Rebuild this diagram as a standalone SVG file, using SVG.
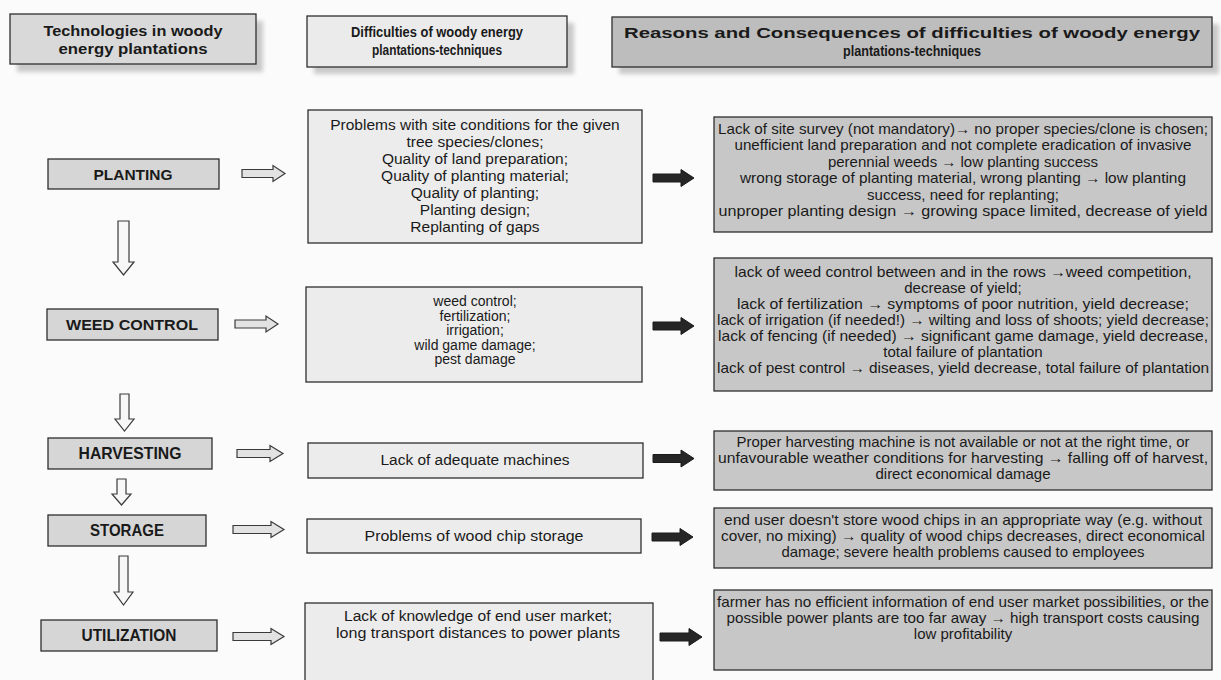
<svg xmlns="http://www.w3.org/2000/svg" width="1221" height="680" viewBox="0 0 1221 680">
<defs>
<filter id="sh" x="-10%" y="-30%" width="130%" height="180%"><feGaussianBlur stdDeviation="2"/></filter>
<style>
text{font-family:"Liberation Sans",Arial,sans-serif;fill:#1a1a1a;text-anchor:middle}
.hd{font-weight:bold;font-size:14.5px}
.hn{font-family:"Liberation Sans Narrow","Liberation Sans",sans-serif;font-weight:bold;font-size:15.5px}
.nd{font-weight:bold;font-size:15.5px}
.nn{font-family:"Liberation Sans Narrow","Liberation Sans",sans-serif;font-weight:bold;font-size:16.5px}
.mt{font-size:15.5px}
.mw{font-size:14px}
.mn{font-family:"Liberation Sans Narrow","Liberation Sans",sans-serif;font-size:15.5px}
.rt{font-size:15px}
.box{stroke:#2e2e2e;stroke-width:1.3}
.h1{fill:#d9d9d9}.h2{fill:#ebebeb}.h3{fill:#bdbdbd}
.lf{fill:#d6d6d6}.md{fill:#ececec}.rg{fill:#c7c7c7}
.shd{fill:#c9c9c9;filter:url(#sh)}
.ha{fill:#e2e2e2;stroke:#3a3a3a;stroke-width:1.2}
.da{fill:#f7f7f7;stroke:#3a3a3a;stroke-width:1.2}
.ba{fill:#262626;stroke:#1a1a1a;stroke-width:1}
</style>
</defs>
<rect width="1221" height="680" fill="#fbfbfb"/>

<g id="header-technologies">
<rect class="shd" x="17" y="21" width="246" height="51"/>
<rect class="box h1" x="10" y="14" width="246" height="50"/>
<text class="hd" x="133" y="36" textLength="179" lengthAdjust="spacingAndGlyphs">Technologies in woody</text>
<text class="hd" x="133" y="54" textLength="149" lengthAdjust="spacingAndGlyphs">energy plantations</text>
</g>
<g id="header-difficulties">
<rect class="shd" x="314" y="23" width="260" height="51"/>
<rect class="box h2" x="307" y="16" width="260" height="51"/>
<text class="hd" x="437" y="37" textLength="172" lengthAdjust="spacingAndGlyphs">Difficulties of woody energy</text>
<text class="hd" x="437" y="55" textLength="130" lengthAdjust="spacingAndGlyphs">plantations-techniques</text>
</g>
<g id="header-reasons">
<rect class="shd" x="619" y="24" width="600" height="50"/>
<rect class="box h3" x="612" y="17" width="600" height="50"/>
<text class="hn" x="912" y="38" textLength="576" lengthAdjust="spacingAndGlyphs">Reasons and Consequences of difficulties of woody energy</text>
<text class="hn" x="912" y="56" textLength="138" lengthAdjust="spacingAndGlyphs">plantations-techniques</text>
</g>

<g id="planting">
<rect class="box lf" x="48" y="159" width="171" height="30"/>
<text class="nd" x="133" y="180" textLength="79" lengthAdjust="spacingAndGlyphs">PLANTING</text>
</g>
<g id="weed-control">
<rect class="box lf" x="47" y="309" width="171" height="31"/>
<text class="nd" x="132" y="330" textLength="132" lengthAdjust="spacingAndGlyphs">WEED CONTROL</text>
</g>
<g id="harvesting">
<rect class="box lf" x="48" y="438" width="164" height="31"/>
<text class="nn" x="130" y="459" textLength="103" lengthAdjust="spacingAndGlyphs">HARVESTING</text>
</g>
<g id="storage">
<rect class="box lf" x="48" y="515" width="158" height="31"/>
<text class="nn" x="127" y="536" textLength="74" lengthAdjust="spacingAndGlyphs">STORAGE</text>
</g>
<g id="utilization">
<rect class="box lf" x="41" y="620" width="176" height="31"/>
<text class="nn" x="129" y="641" textLength="95" lengthAdjust="spacingAndGlyphs">UTILIZATION</text>
</g>

<g id="diff-planting">
<rect class="box md" x="308" y="110" width="334" height="133"/>
<text class="mt" x="475" y="130">Problems with site conditions for the given</text>
<text class="mt" x="475" y="147">tree species/clones;</text>
<text class="mt" x="475" y="164">Quality of land preparation;</text>
<text class="mt" x="475" y="181">Quality of planting material;</text>
<text class="mt" x="475" y="198">Quality of planting;</text>
<text class="mt" x="475" y="215">Planting design;</text>
<text class="mt" x="475" y="232">Replanting of gaps</text>
</g>
<g id="diff-weed">
<rect class="box md" x="306" y="287" width="336" height="95"/>
<text class="mw" x="475" y="306">weed control;</text>
<text class="mw" x="475" y="320.5">fertilization;</text>
<text class="mw" x="475" y="335">irrigation;</text>
<text class="mw" x="475" y="349.5">wild game damage;</text>
<text class="mw" x="475" y="364">pest damage</text>
</g>
<g id="diff-harvesting">
<rect class="box md" x="308" y="443" width="335" height="35"/>
<text class="mn" x="475" y="465" textLength="189" lengthAdjust="spacingAndGlyphs">Lack of adequate machines</text>
</g>
<g id="diff-storage">
<rect class="box md" x="307" y="519" width="334" height="34"/>
<text class="mn" x="474" y="541" textLength="219" lengthAdjust="spacingAndGlyphs">Problems of wood chip storage</text>
</g>
<g id="diff-utilization">
<rect class="box md" x="305" y="603" width="348" height="90"/>
<text class="mn" x="478" y="621" textLength="268" lengthAdjust="spacingAndGlyphs">Lack of knowledge of end user market;</text>
<text class="mn" x="478" y="638" textLength="284" lengthAdjust="spacingAndGlyphs">long transport distances to power plants</text>
</g>

<g id="reason-planting">
<rect class="box rg" x="714" y="117" width="498" height="115"/>
<text class="rt" x="963" y="134" textLength="490" lengthAdjust="spacingAndGlyphs">Lack of site survey (not mandatory)→ no proper species/clone is chosen;</text>
<text class="rt" x="963" y="150" textLength="457" lengthAdjust="spacingAndGlyphs">unefficient land preparation and not complete eradication of invasive</text>
<text class="rt" x="963" y="166.5">perennial weeds → low planting success</text>
<text class="rt" x="963" y="183" textLength="446" lengthAdjust="spacingAndGlyphs">wrong storage of planting material, wrong planting → low planting</text>
<text class="rt" x="963" y="199.5">success, need for replanting;</text>
<text class="rt" x="963" y="216" textLength="489" lengthAdjust="spacingAndGlyphs">unproper planting design → growing space limited, decrease of yield</text>
</g>
<g id="reason-weed">
<rect class="box rg" x="714" y="258" width="498" height="133"/>
<text class="rt" x="963" y="277" textLength="457" lengthAdjust="spacingAndGlyphs">lack of weed control between and in the rows →weed competition,</text>
<text class="rt" x="963" y="293">decrease of yield;</text>
<text class="rt" x="963" y="309" textLength="452" lengthAdjust="spacingAndGlyphs">lack of fertilization → symptoms of poor nutrition, yield decrease;</text>
<text class="rt" x="963" y="325" textLength="492" lengthAdjust="spacingAndGlyphs">lack of irrigation (if needed!) → wilting and loss of shoots; yield decrease;</text>
<text class="rt" x="963" y="341" textLength="490" lengthAdjust="spacingAndGlyphs">lack of fencing (if needed) → significant game damage, yield decrease,</text>
<text class="rt" x="963" y="357">total failure of plantation</text>
<text class="rt" x="963" y="373" textLength="492" lengthAdjust="spacingAndGlyphs">lack of pest control → diseases, yield decrease, total failure of plantation</text>
</g>
<g id="reason-harvesting">
<rect class="box rg" x="714" y="431" width="498" height="59"/>
<text class="rt" x="963" y="447" textLength="453" lengthAdjust="spacingAndGlyphs">Proper harvesting machine is not available or not at the right time, or</text>
<text class="rt" x="963" y="463" textLength="490" lengthAdjust="spacingAndGlyphs">unfavourable weather conditions for harvesting → falling off of harvest,</text>
<text class="rt" x="963" y="479">direct economical damage</text>
</g>
<g id="reason-storage">
<rect class="box rg" x="714" y="508" width="498" height="60"/>
<text class="rt" x="963" y="525" textLength="478" lengthAdjust="spacingAndGlyphs">end user doesn't store wood chips in an appropriate way (e.g. without</text>
<text class="rt" x="963" y="541" textLength="484" lengthAdjust="spacingAndGlyphs">cover, no mixing) → quality of wood chips decreases, direct economical</text>
<text class="rt" x="963" y="557" textLength="363" lengthAdjust="spacingAndGlyphs">damage; severe health problems caused to employees</text>
</g>
<g id="reason-utilization">
<rect class="box rg" x="714" y="590" width="498" height="80"/>
<text class="rt" x="963" y="607" textLength="492" lengthAdjust="spacingAndGlyphs">farmer has no efficient information of end user market possibilities, or the</text>
<text class="rt" x="963" y="623" textLength="473" lengthAdjust="spacingAndGlyphs">possible power plants are too far away → high transport costs causing</text>
<text class="rt" x="963" y="639">low profitability</text>
</g>

<g id="connectors">
<path class="ha" d="M242,169.5 H273 V165.5 L285,173.5 L273,181.5 V177.5 H242 Z"/>
<path class="ha" d="M235,320 H266 V316 L278,324 L266,332 V328 H235 Z"/>
<path class="ha" d="M237,449.5 H270 V445.5 L283,453.5 L270,461.5 V457.5 H237 Z"/>
<path class="ha" d="M233,525.5 H271 V521.5 L284,529.5 L271,537.5 V533.5 H233 Z"/>
<path class="ha" d="M233,632.5 H271 V628.5 L284,636.5 L271,644.5 V640.5 H233 Z"/>
<path class="ba" d="M653,174 H681 V169.5 L694,178 L681,186.5 V182 H653 Z"/>
<path class="ba" d="M653,322 H681 V317.5 L694,326 L681,334.5 V330 H653 Z"/>
<path class="ba" d="M653,454.5 H681 V450 L694,458.5 L681,467 V462.5 H653 Z"/>
<path class="ba" d="M652,533 H680 V528.5 L693,537 L680,545.5 V541 H652 Z"/>
<path class="ba" d="M660,633 H689 V628.5 L702,637 L689,645.5 V641 H660 Z"/>
<path class="da" d="M118,221 H129 V262 H134 L123.5,275 L113,262 H118 Z"/>
<path class="da" d="M120,394 H129 V419 H134 L124.5,431 L115,419 H120 Z"/>
<path class="da" d="M117,479 H126 V494 H131 L121.5,505 L112,494 H117 Z"/>
<path class="da" d="M119,556 H128 V592 H133 L123.5,605 L114,592 H119 Z"/>
</g>
</svg>
